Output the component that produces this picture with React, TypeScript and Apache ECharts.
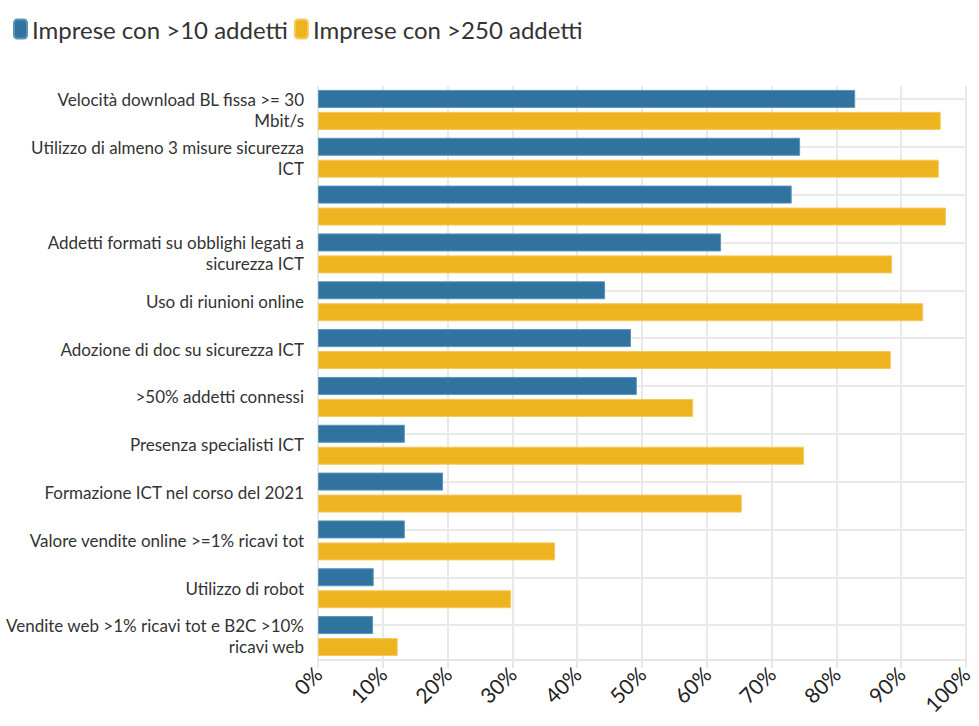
import React, { useEffect, useRef } from "react";
import * as echarts from "echarts";

const categories = [
  "Velocità download BL fissa >= 30\nMbit/s",
  "Utilizzo di almeno 3 misure sicurezza\nICT",
  "",
  "Addetti formati su obblighi legati a\nsicurezza ICT",
  "Uso di riunioni online",
  "Adozione di doc su sicurezza ICT",
  ">50% addetti connessi",
  "Presenza specialisti ICT",
  "Formazione ICT nel corso del 2021",
  "Valore vendite online >=1% ricavi tot",
  "Utilizzo di robot",
  "Vendite web >1% ricavi tot e B2C >10%\nricavi web",
];

const seriesNames = ["Imprese con >10 addetti", "Imprese con >250 addetti"];
const small = [82.9, 74.4, 73.1, 62.2, 44.3, 48.3, 49.2, 13.4, 19.3, 13.4, 8.6, 8.5];
const large = [96.1, 95.8, 96.9, 88.6, 93.4, 88.4, 57.9, 75.0, 65.4, 36.6, 29.8, 12.3];

export default function App() {
  const ref = useRef<HTMLDivElement>(null);
  useEffect(() => {
    if (!ref.current) return;
    const chart = echarts.init(ref.current, null, { renderer: "svg" });
    const font = "Lato, 'Noto Sans', sans-serif";
    chart.setOption({
      animation: false,
      textStyle: { fontFamily: font },
      legend: {
        left: 8,
        top: 12,
        icon: "roundRect",
        itemWidth: 13,
        itemHeight: 19,
        itemGap: 6,
        textStyle: { fontSize: 24, color: "#333", fontFamily: font },
        data: seriesNames,
      },
      grid: { left: 318, right: 13, top: 86, bottom: 66, containLabel: false },
      xAxis: {
        type: "value",
        min: 0,
        max: 100,
        interval: 10,
        axisLabel: { formatter: "{value}%", rotate: 45, fontSize: 21, color: "#222", margin: 10, fontFamily: font },
        axisLine: { show: true, lineStyle: { color: "#e6e6e6", width: 2 } },
        axisTick: { show: true, length: 8, lineStyle: { color: "#e6e6e6", width: 2 } },
        splitLine: { show: true, lineStyle: { color: "#e9e9e9", width: 2 } },
      },
      yAxis: {
        type: "category",
        inverse: true,
        data: categories,
        axisLine: { show: false },
        axisTick: { show: false },
        splitLine: { show: false },
        axisLabel: { fontSize: 17, color: "#333", lineHeight: 21, margin: 14, fontFamily: font },
      },
      series: [
        {
          name: seriesNames[0],
          type: "bar",
          data: small,
          barWidth: 18,
          barGap: "22%",
          itemStyle: { color: "#31739f", borderColor: "#5a93bb", borderWidth: 1 },
          markLine: {
            silent: true,
            symbol: "none",
            label: { show: false },
            lineStyle: { color: "#e9e9e9", width: 2, type: "solid" },
            data: categories.map((_, i) => ({ yAxis: i })),
            z: 1,
          },
        },
        {
          name: seriesNames[1],
          type: "bar",
          data: large,
          barWidth: 18,
          itemStyle: { color: "#eeb420", borderColor: "#f4c95a", borderWidth: 1 },
        },
      ],
    });
    return () => chart.dispose();
  }, []);
  return <div ref={ref} style={{ width: 979, height: 726, position: "absolute", left: 0, top: 0 }} />;
}
